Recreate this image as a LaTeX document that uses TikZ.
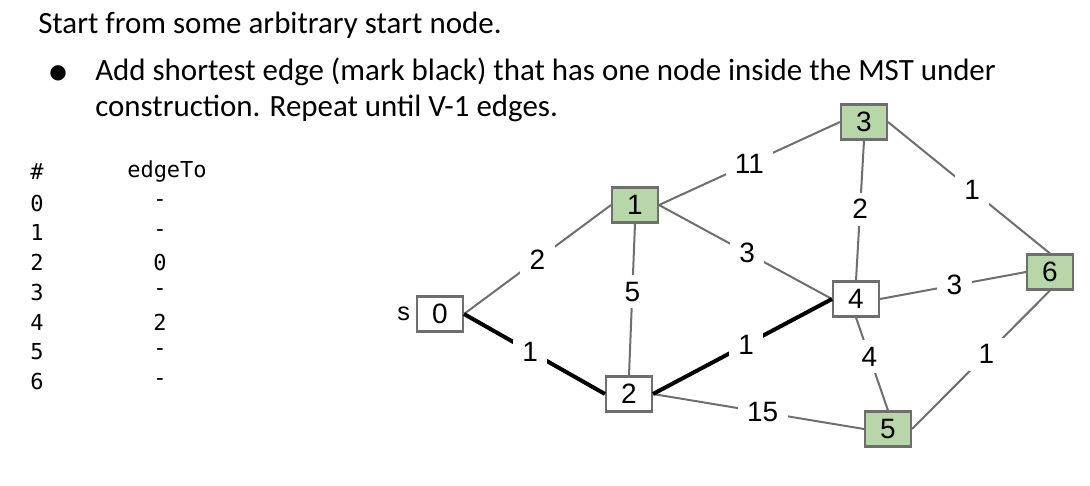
\documentclass[tikz,border=0pt]{standalone}
\usepackage{fontspec}
\setmainfont{Carlito}
\newfontfamily\arialfont{Liberation Sans}
\newfontfamily\tablefont{DejaVu Sans Mono}
\newfontfamily\dotfont{DejaVu Sans}
\usetikzlibrary{positioning}
\definecolor{mstgreen}{HTML}{B7D7A8}
\definecolor{edgegray}{HTML}{6E6E6E}

\begin{document}
\begin{tikzpicture}[x=0.75pt,y=-0.75pt,
    vtx/.style={draw=edgegray,line width=1.6pt,fill=white,minimum width=34.4pt,minimum height=26.2pt,inner sep=0pt,font=\arialfont\fontsize{21}{24}\selectfont},
    seen/.style={vtx,fill=mstgreen},
    wedge/.style={draw=edgegray,line width=1.5pt},
    treeedge/.style={draw=black,line width=3pt},
    wt/.style={fill=white,inner xsep=7pt,inner ysep=5pt,font=\arialfont\fontsize{21}{24}\selectfont},
    txt/.style={anchor=base west,inner sep=0pt,font=\fontsize{23.2}{27}\selectfont},
    tbl/.style={inner sep=0pt,font=\tablefont\fontsize{16.5}{18}\selectfont}]
  \useasboundingbox (0,0) rectangle (1090,486);

  \node[txt] (intro) at (38,33) {Start from some arbitrary start node.};
  \node[font=\dotfont\fontsize{15}{16}\selectfont] (dot) at (58,73) {●};
  \node[txt] (rule1) at (95,80) {Add shortest edge (mark black) that has one node inside the MST under};
  \node[txt] (rule2) at (95,116) {construction. Repeat until V-1 edges.};

  \node[tbl] (hnum) at (37,172) {\#};
  \node[tbl] (hedge) at (167,172) {edgeTo};
  \foreach \v [count=\i from 0] in {-,-,0,-,2,-,-} {
    \node[tbl] (num\i) at (37,203+\i*29.8) {\i};
    \node[tbl] (to\i) at (160,203+\i*29.8) {\v};
  }

  \node[vtx] (v0) at (440,314) {0};
  \node[font=\arialfont\fontsize{19}{20}\selectfont,left=1pt of v0] (src) {s};
  \node[seen] (v1) at (635,205) {1};
  \node[vtx] (v2) at (629,394) {2};
  \node[seen] (v3) at (864,122) {3};
  \node[vtx] (v4) at (856,299) {4};
  \node[seen] (v5) at (888,429) {5};
  \node[seen] (v6) at (1050,272) {6};

  \draw[wedge] (v0.east) -- node[wt,pos=0.5] {2} (v1.west);
  \draw[wedge] (v1.south) -- node[wt,pos=0.45] {5} (v2.north);
  \draw[wedge] (v1.east) -- node[wt,pos=0.5] {11} (v3.west);
  \draw[wedge] (v1.east) -- node[wt,pos=0.51] {3} (v4.west);
  \draw[wedge] (v2.east) -- node[wt,pos=0.52] {15} (v5.west);
  \draw[wedge] (v3.south) -- node[wt,pos=0.49] {2} (v4.north);
  \draw[wedge] (v3.east) -- node[wt,pos=0.52] {1} (v6.north);
  \draw[wedge] (v4.east) -- node[wt,pos=0.51] {3} (v6.west);
  \draw[wedge] (v4.south) -- node[wt,pos=0.42] {4} (v5.north);
  \draw[wedge] (v5.east) -- node[wt,pos=0.54] {1} (v6.south);
  \draw[treeedge] (v0.east) -- node[wt,pos=0.47] {1} (v2.west);
  \draw[treeedge] (v2.east) -- node[wt,pos=0.52] {1} (v4.west);
\end{tikzpicture}
\end{document}
